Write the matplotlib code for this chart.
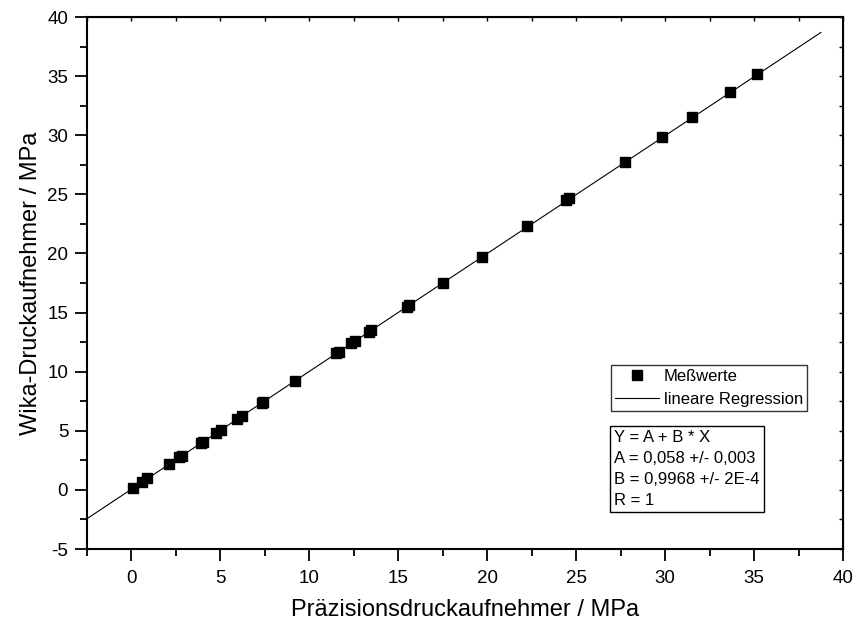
import matplotlib
matplotlib.use("Agg")
import matplotlib.pyplot as plt
from matplotlib.ticker import MultipleLocator

plt.rcParams['font.family'] = ['Liberation Sans', 'DejaVu Sans']
plt.rcParams['axes.unicode_minus'] = False

# Messwerte: Praezisionsdruckaufnehmer (x) gegen Wika-Druckaufnehmer (y), MPa
x_ref = [0.07, 0.58, 0.89, 2.13, 2.69, 2.82, 3.89, 4.02, 4.74, 5.01, 5.94, 6.24,
         7.31, 7.40, 9.18, 11.52, 11.64, 12.35, 12.55, 13.33, 13.47, 15.48, 15.62,
         17.49, 19.68, 22.26, 24.45, 24.60, 27.72, 29.81, 31.51, 33.67, 35.16]
y_wika = [0.15, 0.63, 0.99, 2.18, 2.77, 2.89, 3.95, 4.07, 4.78, 5.06, 5.97, 6.25,
          7.33, 7.45, 9.24, 11.55, 11.68, 12.40, 12.58, 13.35, 13.50, 15.50, 15.62,
          17.51, 19.68, 22.29, 24.50, 24.65, 27.72, 29.86, 31.56, 33.67, 35.17]

A = 0.058
B = 0.9968
fit_x = [-2.5, 38.76]

fig = plt.figure(figsize=(8.57, 6.25), dpi=100)
ax = fig.add_axes([87 / 857, 1 - 549 / 625, (843 - 87) / 857, (549 - 17) / 625])

fit_y = [A + B * v for v in fit_x]
ax.plot(fit_x, fit_y, color='black', lw=0.8, label='lineare Regression', zorder=2)
ax.plot(x_ref, y_wika, ls='none', marker='s', ms=7, color='black', label='Meßwerte', zorder=3)

ax.set_xlim(-2.5, 40)
ax.set_ylim(-5, 40)
ax.xaxis.set_major_locator(MultipleLocator(5))
ax.xaxis.set_minor_locator(MultipleLocator(2.5))
ax.yaxis.set_major_locator(MultipleLocator(5))
ax.yaxis.set_minor_locator(MultipleLocator(2.5))
ax.tick_params(which='both', direction='out', width=1.3, labelsize=13.5)
ax.tick_params(which='major', length=8.5, pad=5)
ax.tick_params(which='minor', length=4.7)
ax.tick_params(axis='x', which='major', pad=6.5)
for s in ax.spines.values():
    s.set_linewidth(1.5)

# kurze Striche innen an oben und rechts
sec_x = ax.secondary_xaxis('top')
sec_x.xaxis.set_major_locator(MultipleLocator(2.5))
sec_x.tick_params(direction='in', length=3, width=1.0, labeltop=False)
sec_y = ax.secondary_yaxis('right')
sec_y.yaxis.set_major_locator(MultipleLocator(2.5))
sec_y.tick_params(direction='in', length=3, width=1.0, labelright=False)

ax.set_xlabel('Präzisionsdruckaufnehmer / MPa', fontsize=17, labelpad=9)
ax.set_ylabel('Wika-Druckaufnehmer / MPa', fontsize=17, labelpad=4)

h, l = ax.get_legend_handles_labels()
leg = ax.legend(h[::-1], l[::-1], loc='upper left',
                bbox_to_anchor=(611 / 857, 1 - 365 / 625), bbox_transform=fig.transFigure,
                fancybox=False, edgecolor='black', fontsize=12, borderpad=0.25,
                handlelength=2.6, handletextpad=0.3, labelspacing=0.45, borderaxespad=0)
leg.get_frame().set_linewidth(1.0)

stats = 'Y = A + B * X\nA = 0,058 +/- 0,003\nB = 0,9968 +/- 2E-4\nR = 1'
fig.text(614 / 857, 1 - 430 / 625, stats, ha='left', va='top', fontsize=12, linespacing=1.5,
         bbox=dict(boxstyle='square,pad=0.25', fc='white', ec='black', lw=1.0))

fig.savefig('out.png', dpi=100)
